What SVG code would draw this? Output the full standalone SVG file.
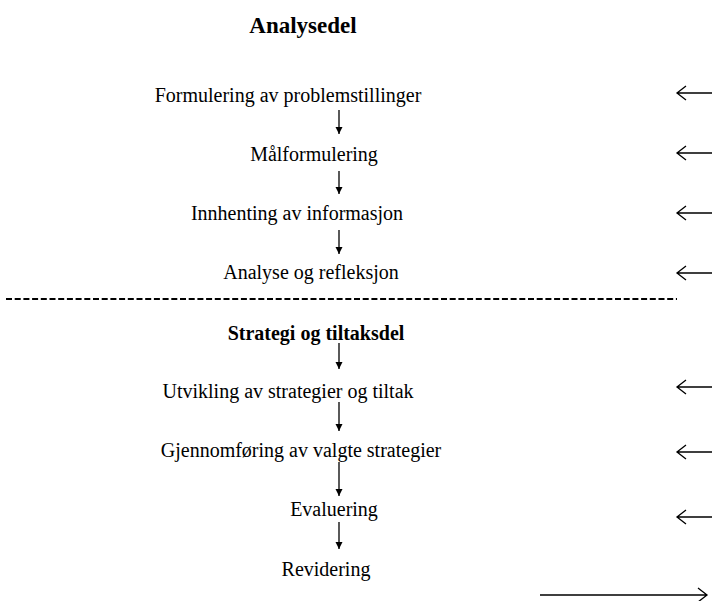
<svg xmlns="http://www.w3.org/2000/svg" width="712" height="601" viewBox="0 0 712 601">
<style>
text{font-family:"Liberation Serif","Times New Roman",serif;font-size:20px;fill:#000}
.b{font-weight:bold}
.h{font-size:23px}
.c{stroke:#000;stroke-width:1.3;fill:none}
</style>
<defs>
<marker id="ah" markerWidth="8" markerHeight="8" refX="7" refY="4" orient="auto" markerUnits="userSpaceOnUse"><path d="M0,0.5 L7,4 L0,7.5 Z" fill="#000"/></marker>
</defs>
<rect width="712" height="601" fill="#fff"/>
<g id="analysedel"><text class="b h" x="303" y="33" text-anchor="middle">Analysedel</text></g>
<g id="n1"><text x="288" y="102" text-anchor="middle">Formulering av problemstillinger</text></g>
<g id="n2"><text x="314" y="161" text-anchor="middle">Målformulering</text></g>
<g id="n3"><text x="297" y="220" text-anchor="middle">Innhenting av informasjon</text></g>
<g id="n4"><text x="311" y="279" text-anchor="middle">Analyse og refleksjon</text></g>
<g id="divider"><line x1="6" y1="299" x2="677" y2="299" stroke="#000" stroke-width="2" stroke-dasharray="6,2.7"/></g>
<g id="strategidel"><text class="b" x="316" y="340" text-anchor="middle">Strategi og tiltaksdel</text></g>
<g id="n5"><text x="288" y="398" text-anchor="middle">Utvikling av strategier og tiltak</text></g>
<g id="n6"><text x="301" y="457" text-anchor="middle">Gjennomføring av valgte strategier</text></g>
<g id="n7"><text x="334" y="516" text-anchor="middle">Evaluering</text></g>
<g id="n8"><text x="326" y="576" text-anchor="middle">Revidering</text></g>
<g id="connectors" class="c">
<line x1="339" y1="110" x2="339" y2="134" marker-end="url(#ah)"/>
<line x1="339" y1="171" x2="339" y2="194" marker-end="url(#ah)"/>
<line x1="339" y1="230" x2="339" y2="254" marker-end="url(#ah)"/>
<line x1="339" y1="343" x2="339" y2="369" marker-end="url(#ah)"/>
<line x1="339" y1="402" x2="339" y2="431" marker-end="url(#ah)"/>
<line x1="339" y1="462" x2="339" y2="496" marker-end="url(#ah)"/>
<line x1="339" y1="522" x2="339" y2="549" marker-end="url(#ah)"/>
<path d="M712,93 H677 M686,86 L677,93 L686,100"/>
<path d="M712,153 H677 M686,146 L677,153 L686,160"/>
<path d="M712,213 H677 M686,206 L677,213 L686,220"/>
<path d="M712,273 H677 M686,266 L677,273 L686,280"/>
<path d="M712,387 H677 M686,380 L677,387 L686,394"/>
<path d="M712,452 H677 M686,445 L677,452 L686,459"/>
<path d="M712,517 H677 M686,510 L677,517 L686,524"/>
<path d="M540,595 H707 M698,588 L707,595 L698,602"/>
</g>
</svg>
